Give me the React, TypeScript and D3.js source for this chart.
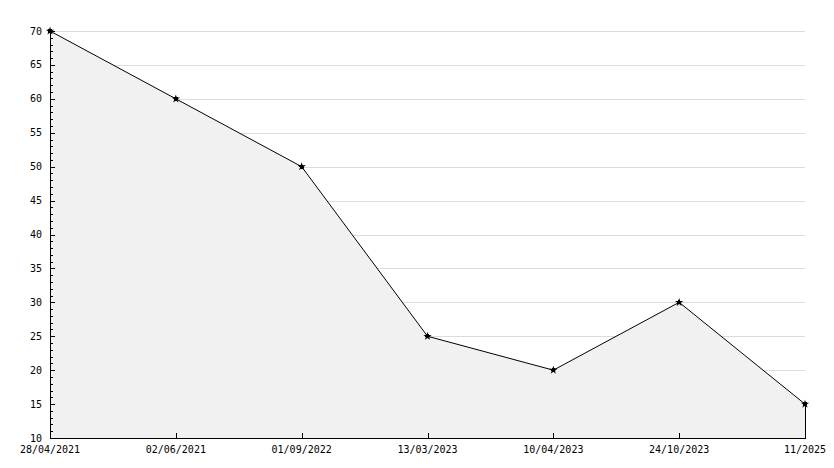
import React from "react";
import * as d3 from "d3";

const categories = ["28/04/2021", "02/06/2021", "01/09/2022", "13/03/2023", "10/04/2023", "24/10/2023", "11/2025"];
const values = [70, 60, 50, 25, 20, 30, 15];
const yMajorTicks = [10, 15, 20, 25, 30, 35, 40, 45, 50, 55, 60, 65, 70];
const yMinorTicks = d3.range(10, 71, 1);

export default function App() {
  const W = 834, H = 468;
  const left = 50, right = 805, top = 31, bottom = 438;
  const x = d3.scalePoint<string>().domain(categories).range([left, right]);
  const y = d3.scaleLinear().domain([10, 70]).range([bottom, top]);
  const data = categories.map((c, i) => ({ c, v: values[i] }));
  const area = d3.area<{ c: string; v: number }>()
    .x(d => x(d.c)!).y0(y(10)).y1(d => y(d.v))(data)!;
  const line = d3.line<{ c: string; v: number }>().x(d => x(d.c)!).y(d => y(d.v))(data)!;
  const star = d3.symbol().type(d3.symbolStar).size(22)()!;
  const font = "'DejaVu Sans Mono', monospace";
  const lastX = x(categories[categories.length - 1])!;
  return (
    <svg width={W} height={H} style={{ position: "absolute", left: 0, top: 0 }} shapeRendering="crispEdges">
      <rect width={W} height={H} fill="#fff" />
      {yMajorTicks.map(t => (
        <line key={"g" + t} x1={left} x2={right} y1={Math.round(y(t)) + 0.5} y2={Math.round(y(t)) + 0.5} stroke="#dcdcdc" />
      ))}
      <path d={area} fill="#f1f1f1" stroke="none" />
      <line x1={lastX + 0.5} x2={lastX + 0.5} y1={y(values[values.length - 1])} y2={bottom} stroke="#000" />
      <path d={line} fill="none" stroke="#000" strokeWidth={1} shapeRendering="auto" />
      {data.map(d => (
        <g key={d.c} transform={`translate(${x(d.c)},${y(d.v)})`}>
          <path d={star} fill="#000" shapeRendering="auto" />
          <circle r={2.2} fill="#000" />
        </g>
      ))}
      <line x1={left + 0.5} x2={left + 0.5} y1={top} y2={bottom + 1} stroke="#000" />
      <line x1={left} x2={right + 1} y1={bottom + 0.5} y2={bottom + 0.5} stroke="#000" />
      {yMinorTicks.map(t => {
        const major = t % 5 === 0;
        const yy = Math.round(y(t)) + 0.5;
        return <line key={"t" + t} x1={left} x2={left + (major ? 5 : 3)} y1={yy} y2={yy} stroke="#000" />;
      })}
      {yMajorTicks.map(t => (
        <text key={"l" + t} x={42} y={y(t)} dy="0.35em" textAnchor="end" fontFamily={font} fontSize={10} fill="#000">{t}</text>
      ))}
      {categories.map(c => (
        <g key={"x" + c}>
          <line x1={Math.round(x(c)!) + 0.5} x2={Math.round(x(c)!) + 0.5} y1={bottom} y2={bottom - 5} stroke="#000" />
          <text x={x(c)} y={453} textAnchor="middle" fontFamily={font} fontSize={10} fill="#000">{c}</text>
        </g>
      ))}
    </svg>
  );
}
